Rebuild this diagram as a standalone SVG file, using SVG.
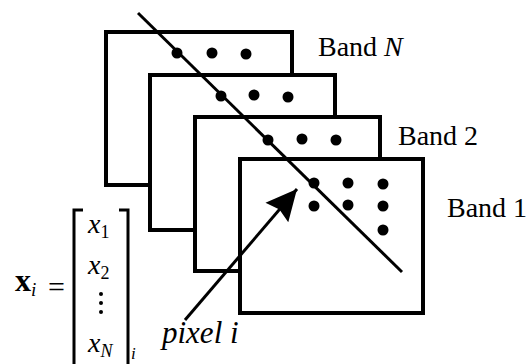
<svg xmlns="http://www.w3.org/2000/svg" width="531" height="364" viewBox="0 0 531 364">
<style>
.band{fill:#fff;stroke:#000;stroke-width:4}
.dot{fill:#000}
.lbl{font-family:"Liberation Serif","Times New Roman",serif;font-size:28px;fill:#000}
.math{font-family:"Liberation Serif","Times New Roman",serif;fill:#000}
.conn{stroke:#000;stroke-width:3;fill:none}
</style>
<defs>
<marker id="ah" markerUnits="userSpaceOnUse" markerWidth="36" markerHeight="36" refX="31" refY="16" orient="auto">
<path d="M0,1 L31,16 L0,31 L4,16 Z" fill="#000"/>
</marker>
</defs>
<rect width="531" height="364" fill="#fff"/>
<g id="bandN">
<rect class="band" x="106" y="32" width="186" height="153"/>
<circle class="dot" cx="177" cy="53" r="5.5"/>
<circle class="dot" cx="212" cy="53" r="5.5"/>
<circle class="dot" cx="246" cy="54" r="5.5"/>
<text class="lbl" x="318" y="56">Band <tspan font-style="italic">N</tspan></text>
</g>
<g id="band3">
<rect class="band" x="150" y="75" width="185" height="155"/>
<circle class="dot" cx="221" cy="96" r="5.5"/>
<circle class="dot" cx="254" cy="95" r="5.5"/>
<circle class="dot" cx="288" cy="97" r="5.5"/>
</g>
<g id="band2">
<rect class="band" x="195" y="117" width="185" height="154"/>
<circle class="dot" cx="268" cy="140" r="5.5"/>
<circle class="dot" cx="302" cy="139" r="5.5"/>
<circle class="dot" cx="336" cy="140" r="5.5"/>
<text class="lbl" x="398" y="145">Band 2</text>
</g>
<g id="band1">
<rect class="band" x="240" y="159" width="183" height="154"/>
<circle class="dot" cx="314" cy="183" r="5.5"/>
<circle class="dot" cx="348" cy="183" r="5.5"/>
<circle class="dot" cx="383" cy="184" r="5.5"/>
<circle class="dot" cx="314" cy="206" r="5.5"/>
<circle class="dot" cx="348" cy="205" r="5.5"/>
<circle class="dot" cx="383" cy="206" r="5.5"/>
<circle class="dot" cx="383" cy="230" r="5.5"/>
<text class="lbl" x="447" y="217">Band 1</text>
</g>
<g id="connectors">
<line class="conn" x1="138" y1="13" x2="402" y2="272"/>
<line class="conn" x1="185" y1="320" x2="297" y2="189" marker-end="url(#ah)"/>
</g>
<g id="pixel-label">
<text class="math" x="162" y="343" font-size="31" font-style="italic">pixel i</text>
</g>
<g id="vector">
<text class="math" x="15" y="291" font-size="32" font-weight="bold">x<tspan font-size="19" font-style="italic" font-weight="normal" dy="5">i</tspan></text>
<text class="math" x="48" y="297" font-size="30">=</text>
<path class="conn" d="M83,210 H74 V364 M119,210 H128 V364" stroke-width="3"/>
<text class="math" x="88" y="233" font-size="28" font-style="italic">x<tspan font-size="18" font-style="normal" dy="5">1</tspan></text>
<text class="math" x="88" y="274" font-size="28" font-style="italic">x<tspan font-size="18" font-style="normal" dy="5">2</tspan></text>
<circle class="dot" cx="101" cy="294" r="2"/>
<circle class="dot" cx="101" cy="303" r="2"/>
<circle class="dot" cx="101" cy="312" r="2"/>
<text class="math" x="88" y="352" font-size="28" font-style="italic">x<tspan font-size="18" dy="5">N</tspan></text>
<text class="math" x="131" y="359" font-size="17" font-style="italic">i</text>
</g>
</svg>
